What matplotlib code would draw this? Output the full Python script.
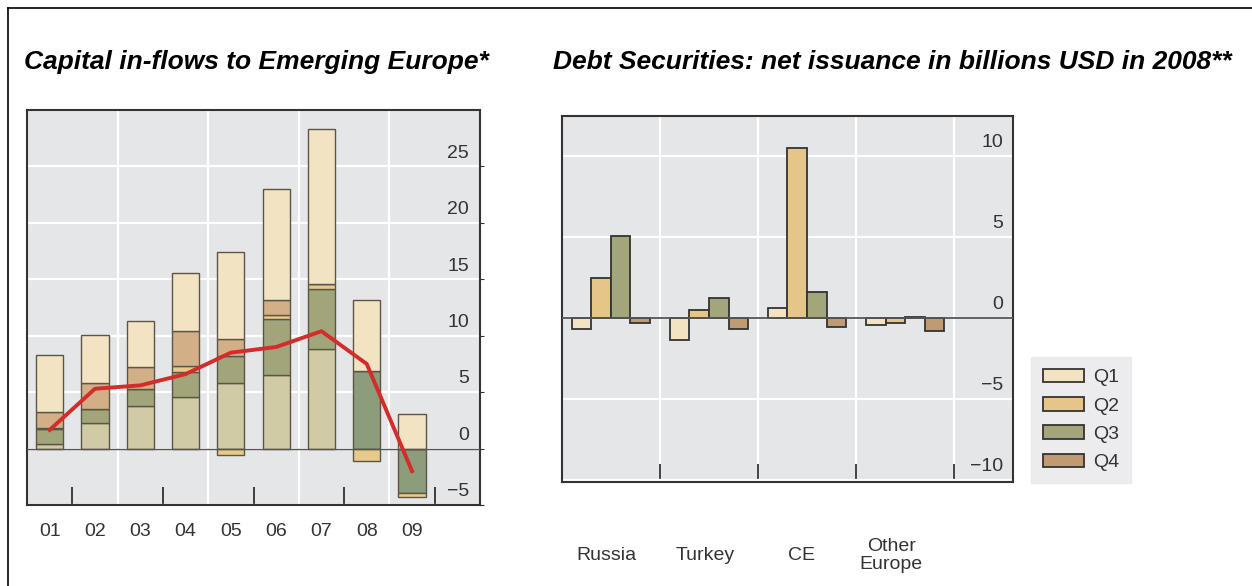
import numpy as np
import matplotlib.pyplot as plt
from matplotlib.lines import Line2D
from matplotlib.patches import Patch

plt.rcParams['font.family'] = ['Liberation Sans', 'DejaVu Sans']

# left chart: stacked components per year, plus total line
years = ['01', '02', '03', '04', '05', '06', '07', '08', '09']
seg_base = [0.4, 2.3, 3.8, 4.6, 5.8, 6.5, 8.8, 0, 0]
seg_green = [1.3, 1.2, 1.5, 2.2, 2.4, 5.0, 5.3, 6.9, -3.9]
seg_orange = [0.1, 0, 0, 0.5, -0.6, 0.3, 0.5, -1.1, -0.4]
seg_tan = [1.4, 2.3, 1.9, 3.1, 1.5, 1.4, 0, 0, 0]
seg_cream = [5.1, 4.3, 4.1, 5.2, 7.7, 9.8, 13.7, 6.3, 3.1]
total_line = [1.65, 5.3, 5.6, 6.6, 8.5, 9.0, 10.4, 7.5, -2.0]
left_yticks = [-5, 0, 5, 10, 15, 20, 25]

# right chart: debt securities by region and quarter
regions = ['Russia', 'Turkey', 'CE', 'Other\nEurope']
quarters = ['Q1', 'Q2', 'Q3', 'Q4']
q1 = [-0.7, -1.37, 0.6, -0.42]
q2 = [2.45, 0.5, 10.5, -0.3]
q3 = [5.07, 1.22, 1.6, 0.1]
q4 = [-0.27, -0.68, -0.54, -0.79]
right_yticks = [-10, -5, 0, 5, 10]

bg = '#e5e6e8'
c_base = '#d0cba5'
c_green = '#a2a57a'
c_green_dark = '#8d9c7b'
c_orange = '#e8c98c'
c_tan = '#d3af87'
c_cream = '#f2e4c3'
qcolors = ['#f2e4c2', '#e6c589', '#a3a67a', '#bf9a72']
txt = '#333333'

fig = plt.figure(figsize=(12.52, 5.86), dpi=100)

# ---------------- left chart ----------------
ax1 = fig.add_axes([27 / 1252, 81 / 586, 453 / 1252, 395 / 586])
ax1.set_facecolor(bg)
x = np.arange(len(years))
w = 0.6

green_cols = [c_green] * 7 + [c_green_dark] * 2
segments = [(seg_base, [c_base] * 9), (seg_green, green_cols),
            (seg_orange, [c_orange] * 9), (seg_tan, [c_tan] * 9),
            (seg_cream, [c_cream] * 9)]
pos = np.zeros(len(years))
neg = np.zeros(len(years))
for vals, cols in segments:
    vals = np.array(vals, dtype=float)
    bottoms = np.where(vals >= 0, pos, neg)
    ax1.bar(x, vals, w, bottom=bottoms, color=cols, edgecolor='#5a5548',
            linewidth=1.0, zorder=3)
    pos = pos + np.where(vals >= 0, vals, 0)
    neg = neg + np.where(vals < 0, vals, 0)

ax1.plot(x, total_line, color='#d42b2b', linewidth=2.8, zorder=5)
ax1.axhline(0, color='#555555', linewidth=1.0, zorder=4)

ax1.set_xlim(-0.5, 9.5)
ax1.set_ylim(-5, 30)
ax1.set_yticks(left_yticks)
ax1.set_xticks([1.5, 3.5, 5.5, 7.5], minor=False)
ax1.grid(True, color='white', linewidth=1.6, zorder=0)
ax1.set_axisbelow(True)
ax1.tick_params(axis='x', which='major', length=0, labelbottom=False)
ax1.tick_params(axis='y', which='both', left=False, labelleft=False,
                right=True, direction='out', length=3, color='#333333')
ax1.set_xticks(np.arange(0.5, 9, 1.0), minor=True)
ax1.tick_params(axis='x', which='minor', direction='in', length=13,
                width=1.2, color='#222222')
for v in left_yticks:
    ax1.annotate(str(v).replace('-', '\u2212'), xy=(1, v),
                 xycoords=('axes fraction', 'data'), xytext=(-8, 9.5),
                 textcoords='offset points', ha='right', va='center',
                 fontsize=14, color=txt)
for i, lab in enumerate(years):
    ax1.annotate(lab, xy=(i, -5), xycoords='data', xytext=(0, -19),
                 textcoords='offset points', ha='center', va='center',
                 fontsize=14, color=txt, annotation_clip=False)
for s in ax1.spines.values():
    s.set_color('#333333')
    s.set_linewidth(1.5)

# ---------------- right chart ----------------
ax2 = fig.add_axes([561.7 / 1252, 104.3 / 586, 451 / 1252, 366 / 586])
ax2.set_facecolor(bg)
gx = np.arange(len(regions)) + 0.5
qw = 0.2
for k, vals in enumerate([q1, q2, q3, q4]):
    ax2.bar(gx - 0.3 + k * qw, vals, qw, color=qcolors[k],
            edgecolor='#333333', linewidth=1.3, zorder=3, label=quarters[k])
ax2.axhline(0, color='#555555', linewidth=1.3, zorder=4)
ax2.set_xlim(0, 4.595)
ax2.set_ylim(-10.1, 12.5)
ax2.set_yticks(right_yticks)
ax2.set_xticks([1, 2, 3, 4])
ax2.grid(True, color='white', linewidth=1.6, zorder=0)
ax2.set_axisbelow(True)
ax2.tick_params(axis='x', which='major', direction='in', length=13,
                width=1.2, color='#222222', labelbottom=False)
ax2.tick_params(axis='y', left=False, labelleft=False, right=False)
for v in right_yticks:
    ax2.annotate(str(v).replace('-', '\u2212'), xy=(1, v),
                 xycoords=('axes fraction', 'data'), xytext=(-7, 10),
                 textcoords='offset points', ha='right', va='center',
                 fontsize=14, color=txt)
# category labels sit well below the axis, "Other Europe" a bit left
label_dx = [-3, -3, -4, -10]
for i, lab in enumerate(regions):
    ax2.annotate(lab, xy=(gx[i], -10.1), xycoords='data',
                 xytext=(label_dx[i], -53), textcoords='offset points',
                 ha='center', va='center', fontsize=14, color=txt,
                 annotation_clip=False, linespacing=1.1)
for s in ax2.spines.values():
    s.set_color('#333333')
    s.set_linewidth(1.5)

handles = [Patch(facecolor=qcolors[k], edgecolor='#333333', linewidth=1.3)
           for k in range(4)]
leg = fig.legend(handles, quarters, loc='upper left',
                 bbox_to_anchor=(1031 / 1252, 1 - 357 / 586), fontsize=14,
                 frameon=True, fancybox=False, facecolor='#e8e8ea',
                 edgecolor='#e8e8ea', handlelength=2.1, handleheight=0.7,
                 labelspacing=0.55, handletextpad=0.5, borderpad=0.6,
                 borderaxespad=0)
for t in leg.get_texts():
    t.set_color(txt)

# titles
fig.text(24 / 1252, 1 - 62 / 586, 'Capital in-flows to Emerging Europe*',
         fontsize=19, fontweight='bold', fontstyle='italic', va='center')
fig.text(553 / 1252, 1 - 62 / 586,
         'Debt Securities: net issuance in billions USD in 2008**',
         fontsize=19, fontweight='bold', fontstyle='italic', va='center')

# outer frame
fig.add_artist(Line2D([8 / 1252, 8 / 1252], [0, 1 - 8 / 586], color='black',
                      linewidth=1.2, transform=fig.transFigure))
fig.add_artist(Line2D([8 / 1252, 1], [1 - 8 / 586, 1 - 8 / 586],
                      color='black', linewidth=1.2, transform=fig.transFigure))

fig.savefig('out.png', dpi=100)
